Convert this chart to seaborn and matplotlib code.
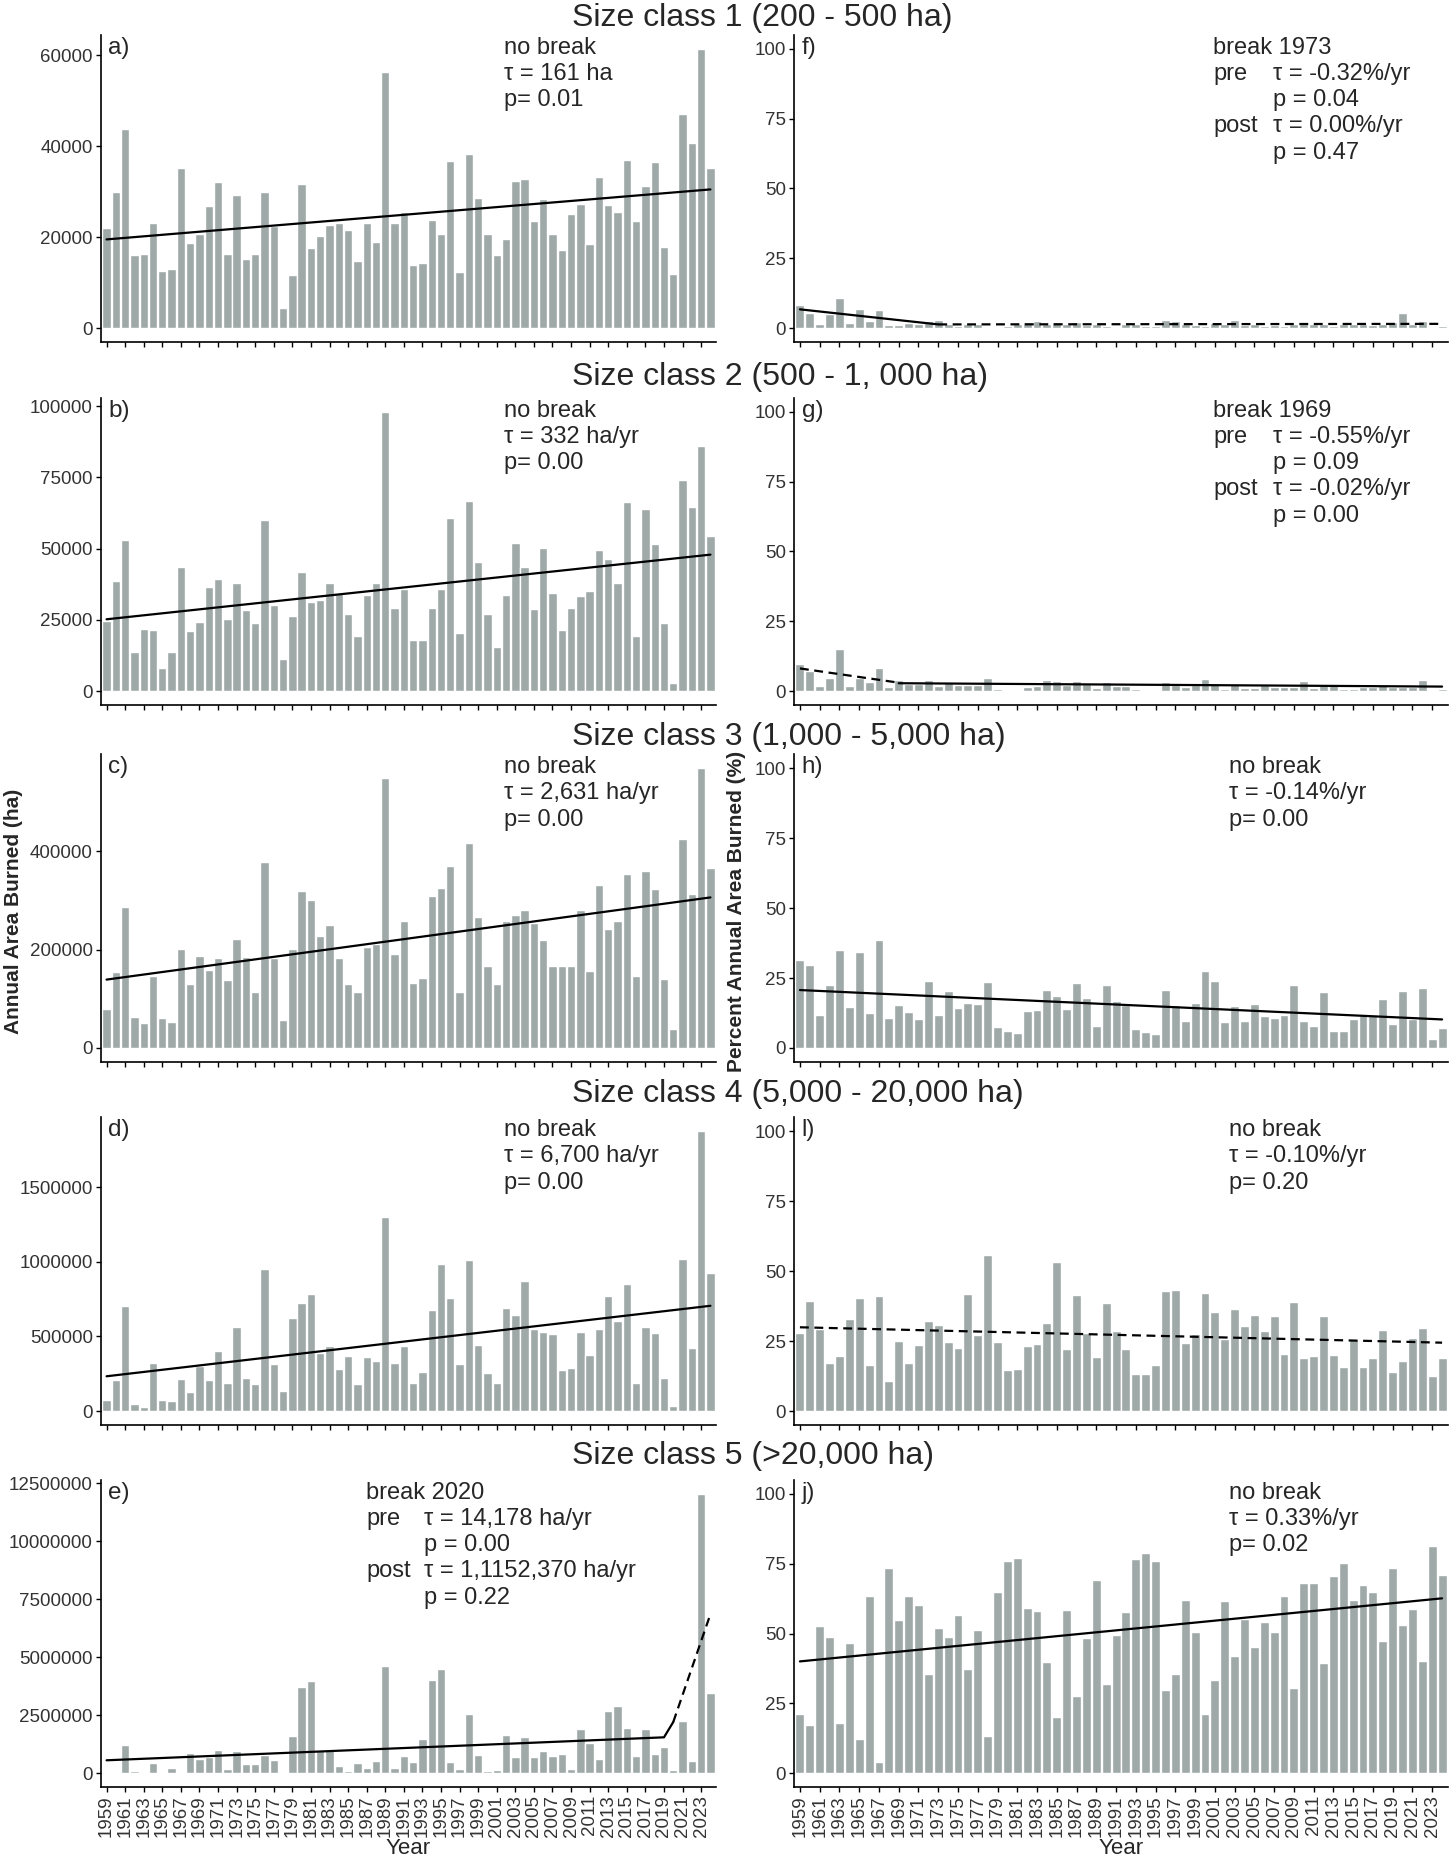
import matplotlib
matplotlib.use('Agg')
import matplotlib.pyplot as plt
import seaborn as sns

sns.set_style('white')
plt.rcParams['font.family'] = ['Liberation Sans', 'DejaVu Sans']

# ---------------------------------------------------------------
# data
# ---------------------------------------------------------------
years = list(range(1959, 2025))
year_labels = [str(y) for y in years]

# annual area burned (ha), size classes 1-5
area_1 = [v * 1000 for v in [
    22.1, 30.0, 43.7, 16.1, 16.3, 23.0, 12.6, 13.0, 35.3, 18.6,
    20.7, 26.8, 32.2, 16.3, 29.3, 15.2, 16.3, 29.9, 22.4, 4.5,
    11.6, 31.6, 17.7, 20.3, 22.6, 23.2, 21.6, 14.7, 23.1, 19.0,
    56.3, 23.1, 25.6, 13.8, 14.4, 23.8, 20.7, 36.7, 12.3, 38.3,
    28.7, 20.7, 16.0, 19.5, 32.4, 32.7, 23.6, 28.4, 20.7, 17.1,
    25.1, 27.2, 18.5, 33.3, 27.0, 25.6, 37.0, 23.6, 31.2, 36.5,
    17.8, 11.8, 47.0, 40.6, 61.4, 35.3]]
area_2 = [v * 1000 for v in [
    24.6, 38.8, 52.9, 13.8, 21.9, 21.5, 8.0, 13.6, 43.7, 21.0,
    24.3, 36.5, 39.4, 25.2, 38.1, 28.5, 23.8, 60.1, 30.2, 11.3,
    26.4, 41.9, 31.2, 31.8, 37.8, 34.6, 26.9, 19.5, 33.7, 37.8,
    98.0, 29.2, 35.8, 17.8, 17.8, 29.0, 36.0, 60.7, 20.4, 66.8,
    45.3, 27.1, 15.6, 33.9, 52.0, 43.7, 28.8, 50.2, 34.5, 21.6,
    29.0, 33.2, 35.1, 49.4, 46.2, 37.9, 66.5, 19.4, 63.8, 51.8,
    23.8, 2.7, 74.1, 64.6, 86.0, 54.3]]
area_3 = [v * 1000 for v in [
    79, 155, 286, 64, 50, 146, 60, 52, 201, 131,
    187, 158, 183, 139, 222, 184, 114, 378, 182, 56,
    201, 319, 301, 228, 250, 182, 131, 114, 205, 212,
    548, 191, 259, 133, 143, 309, 325, 369, 113, 416,
    267, 166, 130, 259, 270, 280, 254, 219, 167, 167,
    167, 280, 157, 331, 241, 258, 354, 147, 360, 324,
    140, 38, 425, 313, 569, 366]]
area_4 = [v * 1000 for v in [
    72, 206, 706, 47, 25, 321, 72, 67, 213, 128,
    300, 209, 401, 186, 561, 222, 179, 955, 318, 135,
    623, 724, 782, 392, 433, 280, 372, 179, 361, 336,
    1300, 325, 435, 186, 260, 677, 989, 756, 314, 1013,
    446, 253, 191, 691, 641, 870, 552, 529, 520, 278,
    287, 529, 379, 552, 769, 605, 854, 186, 567, 522,
    222, 34, 1020, 424, 1879, 924]]
area_5 = [v * 1e6 for v in [
    0.04, 0.06, 1.21, 0.10, 0.01, 0.42, 0.01, 0.22, 0.01, 0.85,
    0.60, 0.69, 0.99, 0.16, 0.93, 0.40, 0.40, 0.79, 0.56, 0.01,
    1.59, 3.71, 3.97, 0.98, 0.98, 0.30, 0.10, 0.43, 0.20, 0.53,
    4.61, 0.22, 0.72, 0.46, 1.45, 3.99, 4.47, 0.49, 0.19, 2.54,
    0.78, 0.09, 0.13, 1.62, 0.68, 1.57, 0.68, 0.96, 0.73, 0.83,
    0.17, 1.88, 1.28, 0.60, 2.67, 2.87, 1.95, 0.75, 1.91, 0.82,
    1.12, 0.14, 2.24, 0.52, 12.03, 3.46]]

# percent of annual area burned, size classes 1-5
pct_1 = [8.3, 5.3, 1.4, 5.0, 10.6, 1.9, 6.7, 2.7, 6.4, 1.2,
         1.2, 1.7, 1.4, 2.4, 2.9, 1.5, 0.9, 1.5, 1.4, 0.4,
         0.4, 0.6, 1.5, 2.0, 2.6, 1.4, 2.1, 1.3, 2.2, 1.2,
         1.5, 0.8, 0.5, 1.5, 1.4, 0.6, 0.8, 2.9, 2.5, 1.4,
         1.2, 0.9, 1.7, 1.3, 2.9, 1.2, 1.5, 0.8, 1.2, 0.6,
         1.3, 1.5, 1.5, 1.5, 0.9, 1.3, 1.5, 1.3, 1.2, 1.4,
         2.0, 5.5, 1.4, 2.5, 0.5, 0.6]
pct_2 = [9.8, 7.3, 1.9, 4.6, 15.0, 1.9, 4.6, 3.1, 8.3, 1.4,
         3.8, 2.6, 2.6, 4.1, 1.7, 3.1, 2.3, 2.3, 2.3, 4.5,
         0.7, 0.5, 0.2, 1.4, 1.9, 3.8, 3.6, 2.3, 3.6, 2.6,
         1.1, 3.3, 1.9, 1.9, 0.6, 0.2, 0.2, 3.1, 2.3, 1.4,
         2.3, 4.3, 2.6, 0.9, 2.6, 1.1, 1.1, 2.3, 1.4, 1.4,
         1.4, 3.7, 1.1, 2.3, 2.7, 0.9, 0.6, 1.4, 1.4, 2.3,
         1.4, 1.4, 1.4, 4.1, 0.4, 0.7]
pct_3 = [31.3, 29.5, 11.9, 22.4, 34.9, 14.6, 34.3, 12.4, 38.7, 10.8,
         15.2, 12.7, 10.5, 23.9, 11.9, 20.5, 14.2, 16.0, 15.7, 23.5,
         7.5, 6.2, 5.4, 13.2, 13.6, 20.6, 18.7, 13.8, 23.3, 17.7,
         7.7, 22.4, 16.7, 15.5, 6.9, 5.7, 5.1, 20.6, 15.2, 9.6,
         16.2, 27.4, 24.0, 9.2, 15.0, 9.5, 15.8, 11.5, 10.6, 11.7,
         22.4, 9.6, 7.7, 20.0, 6.0, 6.2, 10.2, 11.9, 11.7, 17.5,
         8.5, 20.4, 10.5, 21.5, 3.3, 7.0]
pct_4 = [27.9, 39.2, 29.4, 17.1, 19.7, 32.8, 40.5, 16.4, 41.2, 10.7,
         25.0, 17.2, 23.6, 32.0, 30.8, 24.8, 22.6, 41.7, 27.0, 55.6,
         24.6, 14.8, 15.0, 23.3, 23.8, 31.6, 53.2, 22.1, 41.4, 28.0,
         19.4, 38.5, 28.5, 22.0, 13.1, 13.1, 16.6, 43.0, 43.2, 24.4,
         27.5, 42.1, 35.4, 25.6, 36.6, 30.5, 34.4, 28.7, 33.8, 20.3,
         38.8, 18.9, 19.6, 33.9, 20.1, 15.6, 25.6, 15.7, 18.9, 28.8,
         13.8, 17.7, 26.0, 29.6, 12.6, 18.8]
pct_5 = [21.2, 17.2, 52.7, 48.7, 18.1, 46.7, 12.2, 63.5, 4.0, 73.3,
         54.7, 63.4, 60.2, 35.4, 52.1, 48.6, 56.7, 37.2, 51.4, 13.2,
         64.8, 76.1, 77.2, 59.1, 57.9, 39.8, 20.0, 58.4, 27.5, 48.4,
         69.2, 31.8, 49.4, 57.8, 76.7, 78.7, 75.9, 29.8, 35.5, 61.9,
         50.6, 21.3, 33.4, 61.6, 42.1, 55.2, 45.1, 54.1, 50.6, 63.6,
         30.4, 68.1, 68.2, 39.6, 70.6, 75.1, 62.0, 67.3, 64.9, 47.4,
         73.4, 52.9, 58.9, 40.1, 81.4, 70.9]

# trend segments: (years, values, linestyle)
trend_a = [([1959, 2024], [19500, 30500], '-')]
trend_b = [([1959, 2024], [25200, 47900], '-')]
trend_c = [([1959, 2024], [139000, 306000], '-')]
trend_d = [([1959, 2024], [233000, 706000], '-')]
trend_e = [([1959, 2019, 2020], [550000, 1540000, 2200000], '-'),
           ([2020, 2024], [2200000, 6850000], '--')]
trend_f = [([1959, 1973], [6.7, 1.3], '-'), ([1973, 2024], [1.3, 1.5], '--')]
trend_g = [([1959, 1969], [8.1, 3.0], '--'), ([1969, 2024], [2.8, 1.6], '-')]
trend_h = [([1959, 2024], [20.7, 10.2], '-')]
trend_l = [([1959, 2024], [29.9, 24.4], '--')]
trend_j = [([1959, 2024], [40.0, 62.6], '-')]

ticks_1 = [0, 20000, 40000, 60000]
ticks_2 = [0, 25000, 50000, 75000, 100000]
ticks_3 = [0, 200000, 400000]
ticks_4 = [0, 500000, 1000000, 1500000]
ticks_5 = [0, 2500000, 5000000, 7500000, 10000000, 12500000]
ticks_pct = [0, 25, 50, 75, 100]

titles = ['Size class 1 (200 - 500 ha)', 'Size class 2 (500 - 1, 000 ha)',
          'Size class 3 (1,000 - 5,000 ha)', 'Size class 4 (5,000 - 20,000 ha)',
          'Size class 5 (>20,000 ha)']

note_a = [('no break', ''), ('τ = 161 ha', ''), ('p= 0.01', '')]
note_b = [('no break', ''), ('τ = 332 ha/yr', ''), ('p= 0.00', '')]
note_c = [('no break', ''), ('τ = 2,631 ha/yr', ''), ('p= 0.00', '')]
note_d = [('no break', ''), ('τ = 6,700 ha/yr', ''), ('p= 0.00', '')]
note_e = [('break 2020', ''), ('pre', 'τ = 14,178 ha/yr'), ('', 'p = 0.00'),
          ('post', 'τ = 1,1152,370 ha/yr'), ('', 'p = 0.22')]
note_f = [('break 1973', ''), ('pre', 'τ = -0.32%/yr'), ('', 'p = 0.04'),
          ('post', 'τ = 0.00%/yr'), ('', 'p = 0.47')]
note_g = [('break 1969', ''), ('pre', 'τ = -0.55%/yr'), ('', 'p = 0.09'),
          ('post', 'τ = -0.02%/yr'), ('', 'p = 0.00')]
note_h = [('no break', ''), ('τ = -0.14%/yr', ''), ('p= 0.00', '')]
note_l = [('no break', ''), ('τ = -0.10%/yr', ''), ('p= 0.20', '')]
note_j = [('no break', ''), ('τ = 0.33%/yr', ''), ('p= 0.02', '')]

BAR = '#9FAAA8'
W, H = 1456, 1867

# pixel layout of the panel grid
rows_px = [(35, 342), (398, 705), (754, 1062), (1117, 1425), (1480, 1787)]
cols_px = [(101, 716), (794, 1448)]

fig = plt.figure(figsize=(W / 100, H / 100), dpi=100)


def make_axes(row, col):
    (t, b), (l, r) = rows_px[row], cols_px[col]
    return fig.add_axes([l / W, 1 - b / H, (r - l) / W, (b - t) / H])


def draw_panel(ax, values, ticks, ymax, trends, letter, notes, xn, xn2, last_row):
    sns.barplot(x=year_labels, y=values, color=BAR, saturation=1, width=0.9,
                errorbar=None, ax=ax)
    for yrs, vals, ls in trends:
        pos = [y - years[0] for y in yrs]
        if ls == '--':
            ax.plot(pos, vals, color='black', lw=1.6, linestyle=(0, (4, 2.5)))
        else:
            ax.plot(pos, vals, color='black', lw=1.6)
    ax.set_xlim(-0.6, len(years) - 0.4)
    ax.set_ylim(-0.05 * ymax, 1.05 * ymax)
    ax.set_yticks(ticks)
    ax.set_yticklabels([str(t) for t in ticks])
    ax.set_xticks(range(0, len(years), 2))
    if last_row:
        ax.set_xticklabels(year_labels[::2], rotation=90)
    else:
        ax.set_xticklabels([])
    ax.set_xlabel('')
    ax.set_ylabel('')
    sns.despine(ax=ax)
    for s in ['left', 'bottom']:
        ax.spines[s].set_linewidth(1.2)
        ax.spines[s].set_color('black')
    ax.tick_params(axis='both', length=3.8, width=1.0, color='black',
                   labelsize=13.5, labelcolor='#333333', pad=2, bottom=True, left=True)
    ax.text(0.012, 0.957, letter, transform=ax.transAxes,
            fontsize=17.5, va='center', ha='left')
    for i, (left, right) in enumerate(notes):
        y = 0.957 - i * 0.085
        if left:
            ax.text(xn, y, left, transform=ax.transAxes, fontsize=17, va='center', ha='left')
        if right:
            ax.text(xn2, y, right, transform=ax.transAxes, fontsize=17, va='center', ha='left')


left_data = [
    (area_1, ticks_1, 61400, trend_a, 'a)', note_a, 0.655, 0.655),
    (area_2, ticks_2, 98000, trend_b, 'b)', note_b, 0.655, 0.655),
    (area_3, ticks_3, 569000, trend_c, 'c)', note_c, 0.655, 0.655),
    (area_4, ticks_4, 1879000, trend_d, 'd)', note_d, 0.655, 0.655),
    (area_5, ticks_5, 12030000, trend_e, 'e)', note_e, 0.431, 0.526),
]
right_data = [
    (pct_1, trend_f, 'f)', note_f, 0.641, 0.732),
    (pct_2, trend_g, 'g)', note_g, 0.641, 0.732),
    (pct_3, trend_h, 'h)', note_h, 0.665, 0.665),
    (pct_4, trend_l, 'l)', note_l, 0.665, 0.665),
    (pct_5, trend_j, 'j)', note_j, 0.665, 0.665),
]

for r in range(5):
    vals, ticks, ymax, trends, letter, notes, xn, xn2 = left_data[r]
    draw_panel(make_axes(r, 0), vals, ticks, ymax, trends, letter, notes, xn, xn2, r == 4)
    vals, trends, letter, notes, xn, xn2 = right_data[r]
    draw_panel(make_axes(r, 1), vals, ticks_pct, 100, trends, letter, notes, xn, xn2, r == 4)

# size class titles
title_y = [18, 377, 737, 1094, 1456]
for t, y in zip(titles, title_y):
    fig.text(572 / W, 1 - y / H, t, fontsize=23, ha='left', va='center')

fig.text(14 / W, 1 - 911 / H, 'Annual Area Burned (ha)', rotation=90,
         fontsize=15, fontweight='bold', ha='center', va='center')
fig.text(737 / W, 1 - 911 / H, 'Percent Annual Area Burned (%)', rotation=90,
         fontsize=15, fontweight='bold', ha='center', va='center')
fig.text(408 / W, 1 - 1848 / H, 'Year', fontsize=16, ha='center', va='center')
fig.text(1121 / W, 1 - 1848 / H, 'Year', fontsize=16, ha='center', va='center')

fig.savefig('out.png', dpi=100, facecolor='white')
